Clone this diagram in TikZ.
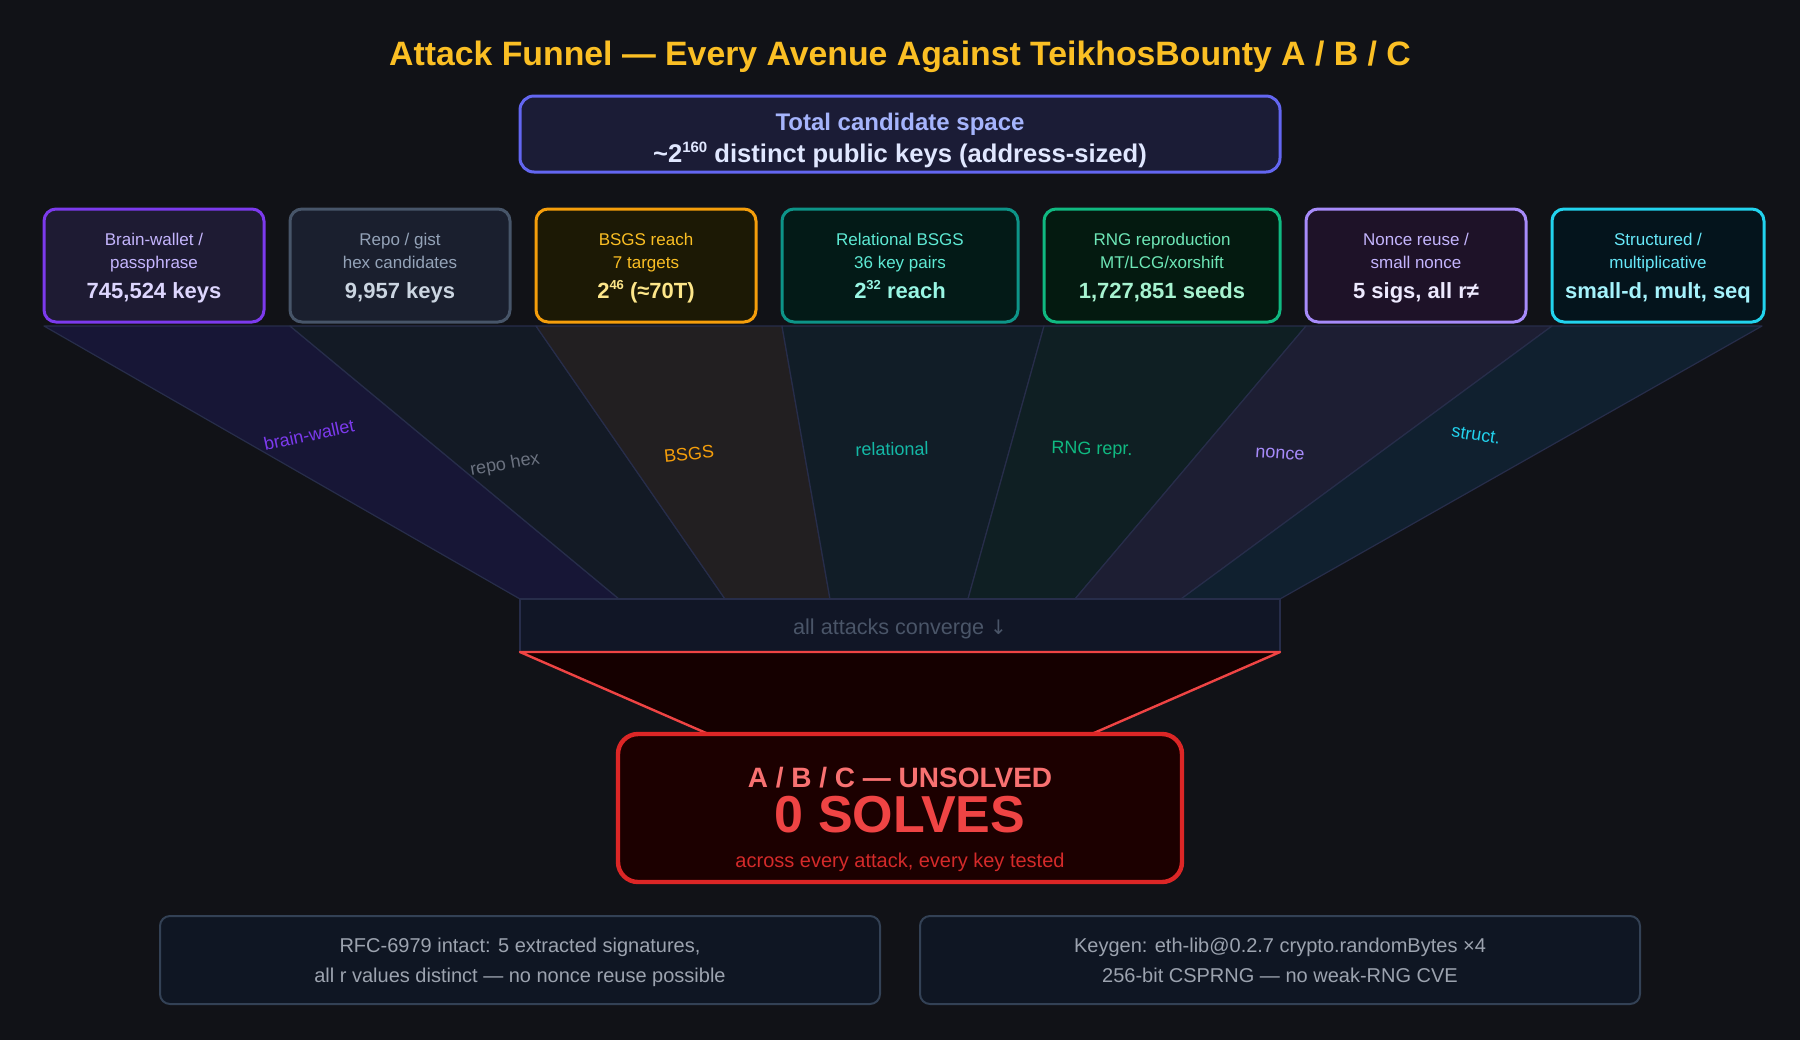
\documentclass[tikz,border=0pt]{standalone}
\usepackage{fontspec}
\setmainfont{Liberation Sans}
\newfontfamily\djv{DejaVu Sans}
\newcommand\mysup[3]{\raisebox{#1}{\fontsize{#2}{#2}\selectfont #3}}
\definecolor{bg}{HTML}{111217}
\definecolor{titlec}{HTML}{FBBF24}
\definecolor{indb}{HTML}{6366F1}
\definecolor{indf}{HTML}{1B1C36}
\definecolor{indt}{HTML}{A5B4FC}
\definecolor{indw}{HTML}{E0E7FF}
% top boxes
\definecolor{b1b}{HTML}{7C3AED}\definecolor{b1f}{HTML}{1E1B33}\definecolor{b1t}{HTML}{C4B5FD}\definecolor{b1w}{HTML}{DDD6FE}
\definecolor{b2b}{HTML}{475569}\definecolor{b2f}{HTML}{1A1F2E}\definecolor{b2t}{HTML}{94A3B8}\definecolor{b2w}{HTML}{CBD5E1}
\definecolor{b3b}{HTML}{F59E0B}\definecolor{b3f}{HTML}{1C1905}\definecolor{b3t}{HTML}{FBBF24}\definecolor{b3w}{HTML}{FDE68A}
\definecolor{b4b}{HTML}{0D9488}\definecolor{b4f}{HTML}{031A17}\definecolor{b4t}{HTML}{5EEAD4}\definecolor{b4w}{HTML}{99F6E4}
\definecolor{b5b}{HTML}{10B981}\definecolor{b5f}{HTML}{041A10}\definecolor{b5t}{HTML}{6EE7B7}\definecolor{b5w}{HTML}{A7F3D0}
\definecolor{b6b}{HTML}{A78BFA}\definecolor{b6f}{HTML}{1E1228}\definecolor{b6t}{HTML}{C4B5FD}\definecolor{b6w}{HTML}{EDE9FE}
\definecolor{b7b}{HTML}{22D3EE}\definecolor{b7f}{HTML}{04141C}\definecolor{b7t}{HTML}{67E8F9}\definecolor{b7w}{HTML}{A5F3FC}
% funnel
\definecolor{edge}{HTML}{272D4A}
\definecolor{s1}{HTML}{171636}
\definecolor{s2}{HTML}{131A25}
\definecolor{s3}{HTML}{221F21}
\definecolor{s4}{HTML}{111D27}
\definecolor{s5}{HTML}{0F1F23}
\definecolor{s6}{HTML}{1D1E33}
\definecolor{s7}{HTML}{10202F}
\definecolor{l1}{HTML}{7C3AED}
\definecolor{l2}{HTML}{6B7280}
\definecolor{l3}{HTML}{F59E0B}
\definecolor{l4}{HTML}{14B8A6}
\definecolor{l5}{HTML}{10B981}
\definecolor{l6}{HTML}{A78BFA}
\definecolor{l7}{HTML}{22D3EE}
\definecolor{convf}{HTML}{111626}
\definecolor{convt}{HTML}{4A5568}
\definecolor{redl}{HTML}{EF4444}
\definecolor{redb}{HTML}{DC2626}
\definecolor{redf}{HTML}{1C0000}
\definecolor{redfun}{HTML}{150000}
\definecolor{redt1}{HTML}{F87171}
\definecolor{redt3}{HTML}{D42A2A}
\definecolor{botb}{HTML}{334155}
\definecolor{botf}{HTML}{0F1623}
\definecolor{bott}{HTML}{9CA3AF}
\begin{document}
\begin{tikzpicture}[x=0.5pt,y=-0.5pt,
  abox/.style={rounded corners=6pt,line width=1.5pt,inner sep=0pt,minimum height=56.5pt},
  small/.style={font=\fontsize{8.5}{10}\selectfont,inner sep=0pt,anchor=base},
  big/.style={font=\fontsize{11}{12}\selectfont\bfseries,inner sep=0pt,anchor=base},
  seg/.style={draw=edge,line width=0.6pt,line join=round},
  seglab/.style={font=\fontsize{9}{10}\selectfont,inner sep=0pt},
  botbox/.style={draw=botb,fill=botf,line width=1pt,rounded corners=5pt,minimum width=360pt,minimum height=44pt,inner sep=0pt},
  bottxt/.style={font=\fontsize{10}{11}\selectfont,text=bott,inner sep=0pt,anchor=base}]
\useasboundingbox[fill=bg] (0,0) rectangle (1800,1040);

% title
\node[font=\fontsize{16.9}{18}\selectfont\bfseries,text=titlec,anchor=base,inner sep=0pt] (title) at (900,65) {Attack Funnel — Every Avenue Against TeikhosBounty A / B / C};

% total candidate space
\node[draw=indb,fill=indf,line width=1.5pt,rounded corners=7pt,minimum width=380pt,minimum height=38pt,inner sep=0pt] (total) at (900,134) {};
\node[font=\fontsize{12}{13}\selectfont\bfseries,text=indt,inner sep=0pt,anchor=base] (totalA) at (900,130) {Total candidate space};
\node[font=\fontsize{12.8}{14}\selectfont\bfseries,text=indw,inner sep=0pt,anchor=base] (totalB) at (900,162) {\textasciitilde 2\mysup{4.8pt}{7.5}{160} distinct public keys (address-sized)};

% funnel segments
\filldraw[seg,fill=s1] (44,326) -- (290,326) -- (619,599) -- (520,599) -- cycle;
\filldraw[seg,fill=s2] (290,326) -- (536,326) -- (725,599) -- (619,599) -- cycle;
\filldraw[seg,fill=s3] (536,326) -- (782,326) -- (830,599) -- (725,599) -- cycle;
\filldraw[seg,fill=s4] (782,326) -- (1044,326) -- (968,599) -- (830,599) -- cycle;
\filldraw[seg,fill=s5] (1044,326) -- (1306,326) -- (1075,599) -- (968,599) -- cycle;
\filldraw[seg,fill=s6] (1306,326) -- (1552,326) -- (1181,599) -- (1075,599) -- cycle;
\filldraw[seg,fill=s7] (1552,326) -- (1762,326) -- (1280,599) -- (1181,599) -- cycle;

\node[seglab,text=l1,rotate=12] (lab1) at (309,435) {brain-wallet};
\node[seglab,text=l2,rotate=10] (lab2) at (505,465) {repo hex};
\node[seglab,text=l3,rotate=6] (lab3) at (689,454) {BSGS};
\node[seglab,text=l4,rotate=1] (lab4) at (892,449) {relational};
\node[seglab,text=l5,rotate=-1] (lab5) at (1092,450) {RNG repr.};
\node[seglab,text=l6,rotate=-4] (lab6) at (1280,454) {nonce};
\node[seglab,text=l7,rotate=-9] (lab7) at (1476,435) {struct.};

% top boxes
\node[abox,draw=b1b,fill=b1f,minimum width=110pt] (b1) at (154,265.5) {};
\node[abox,draw=b2b,fill=b2f,minimum width=110pt] (b2) at (400,265.5) {};
\node[abox,draw=b3b,fill=b3f,minimum width=110pt] (b3) at (646,265.5) {};
\node[abox,draw=b4b,fill=b4f,minimum width=118pt] (b4) at (900,265.5) {};
\node[abox,draw=b5b,fill=b5f,minimum width=118pt] (b5) at (1162,265.5) {};
\node[abox,draw=b6b,fill=b6f,minimum width=110pt] (b6) at (1416,265.5) {};
\node[abox,draw=b7b,fill=b7f,minimum width=106pt] (b7) at (1658,265.5) {};

\node[small,text=b1t] (b1a) at (154,245) {Brain-wallet /};
\node[small,text=b1t] (b1b) at (154,268) {passphrase};
\node[big,text=b1w] (b1c) at (154,298) {745,524 keys};

\node[small,text=b2t] (b2a) at (400,245) {Repo / gist};
\node[small,text=b2t] (b2b) at (400,268) {hex candidates};
\node[big,text=b2w] (b2c) at (400,298) {9,957 keys};

\node[small,text=b3t] (b3a) at (646,245) {BSGS reach};
\node[small,text=b3t] (b3b) at (646,268) {7 targets};
\node[big,text=b3w] (b3c) at (646,298) {2\mysup{4.2pt}{6.5}{46} (≈70T)};

\node[small,text=b4t] (b4a) at (900,245) {Relational BSGS};
\node[small,text=b4t] (b4b) at (900,268) {36 key pairs};
\node[big,text=b4w] (b4c) at (900,298) {2\mysup{4.2pt}{6.5}{32} reach};

\node[small,text=b5t] (b5a) at (1162,245) {RNG reproduction};
\node[small,text=b5t] (b5b) at (1162,268) {MT/LCG/xorshift};
\node[big,text=b5w] (b5c) at (1162,298) {1,727,851 seeds};

\node[small,text=b6t] (b6a) at (1416,245) {Nonce reuse /};
\node[small,text=b6t] (b6b) at (1416,268) {small nonce};
\node[big,text=b6w] (b6c) at (1416,298) {5 sigs, all r≠};

\node[small,text=b7t] (b7a) at (1658,245) {Structured /};
\node[small,text=b7t] (b7b) at (1658,268) {multiplicative};
\node[big,text=b7w] (b7c) at (1658,298) {small-d, mult, seq};

% converge box
\node[draw=edge,fill=convf,line width=0.6pt,minimum width=380pt,minimum height=26.5pt,inner sep=0pt] (conv) at (900,625.5) {};
\node[font=\fontsize{10.8}{12}\selectfont,text=convt,inner sep=0pt,anchor=base] (convt) at (900,634) {all attacks converge {\djv\fontsize{10}{12}\selectfont ↓}};

% red funnel
\coordinate (rtl) at (520,652);
\coordinate (rtr) at (1280,652);
\coordinate (rbl) at (713,736);
\coordinate (rbr) at (1087,736);
\fill[redfun] (rtl) -- (rtr) -- (rbr) -- (rbl) -- cycle;
\draw[redl,line width=1.2pt,line join=round] (rbl) -- (rtl) -- (rtr) -- (rbr);

% result box
\node[draw=redb,fill=redf,line width=2.2pt,rounded corners=10pt,minimum width=282pt,minimum height=74pt,inner sep=0pt] (res) at (900,808) {};
\node[font=\fontsize{14}{15}\selectfont\bfseries,text=redt1,inner sep=0pt,anchor=base] (resA) at (900,787) {A / B / C — UNSOLVED};
\node[font=\fontsize{26}{28}\selectfont\bfseries,text=redl,inner sep=0pt,anchor=base] (resB) at (900,832) {0 SOLVES};
\node[font=\fontsize{10}{11}\selectfont,text=redt3,inner sep=0pt,anchor=base] (resC) at (900,867) {across every attack, every key tested};

% bottom boxes
\node[botbox] (bot1) at (520,960) {};
\node[bottxt] (bot1a) at (520,952) {RFC-6979 intact: 5 extracted signatures,};
\node[bottxt] (bot1b) at (520,982) {all r values distinct — no nonce reuse possible};
\node[botbox] (bot2) at (1280,960) {};
\node[bottxt] (bot2a) at (1280,952) {Keygen: eth-lib@0.2.7 crypto.randomBytes ×4};
\node[bottxt] (bot2b) at (1280,982) {256-bit CSPRNG — no weak-RNG CVE};
\end{tikzpicture}
\end{document}
